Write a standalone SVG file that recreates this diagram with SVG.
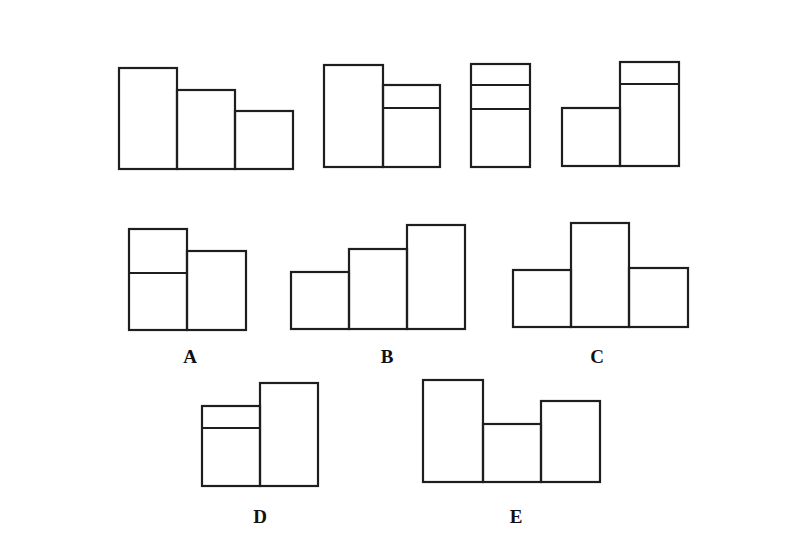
<svg xmlns="http://www.w3.org/2000/svg" width="800" height="560" viewBox="0 0 800 560">
<style>
.b{fill:none;stroke:#1e1e1e;stroke-width:2.2;stroke-linejoin:miter}
.l{font-family:"Liberation Serif","DejaVu Serif",serif;font-weight:bold;font-size:19px;fill:#111;text-anchor:middle}
</style>
<rect width="800" height="560" fill="#ffffff"/>
<g id="fig1">
<rect class="b" x="119" y="68" width="58" height="101"/>
<rect class="b" x="177" y="90" width="58" height="79"/>
<rect class="b" x="235" y="111" width="58" height="58"/>
</g>
<g id="fig2">
<rect class="b" x="324" y="65" width="59" height="102"/>
<rect class="b" x="383" y="85" width="57" height="82"/>
<line class="b" x1="383" y1="108" x2="440" y2="108"/>
</g>
<g id="fig3">
<rect class="b" x="471" y="64" width="59" height="103"/>
<line class="b" x1="471" y1="85" x2="530" y2="85"/>
<line class="b" x1="471" y1="109" x2="530" y2="109"/>
</g>
<g id="fig4">
<rect class="b" x="562" y="108" width="58" height="58"/>
<rect class="b" x="620" y="62" width="59" height="104"/>
<line class="b" x1="620" y1="84" x2="679" y2="84"/>
</g>
<g id="optA">
<rect class="b" x="129" y="229" width="58" height="101"/>
<line class="b" x1="129" y1="273" x2="187" y2="273"/>
<rect class="b" x="187" y="251" width="59" height="79"/>
<text class="l" x="190" y="363">A</text>
</g>
<g id="optB">
<rect class="b" x="291" y="272" width="58" height="57"/>
<rect class="b" x="349" y="249" width="58" height="80"/>
<rect class="b" x="407" y="225" width="58" height="104"/>
<text class="l" x="387" y="363">B</text>
</g>
<g id="optC">
<rect class="b" x="513" y="270" width="58" height="57"/>
<rect class="b" x="571" y="223" width="58" height="104"/>
<rect class="b" x="629" y="268" width="59" height="59"/>
<text class="l" x="597" y="363">C</text>
</g>
<g id="optD">
<rect class="b" x="202" y="406" width="58" height="80"/>
<line class="b" x1="202" y1="428" x2="260" y2="428"/>
<rect class="b" x="260" y="383" width="58" height="103"/>
<text class="l" x="260" y="523">D</text>
</g>
<g id="optE">
<rect class="b" x="423" y="380" width="60" height="102"/>
<rect class="b" x="483" y="424" width="58" height="58"/>
<rect class="b" x="541" y="401" width="59" height="81"/>
<text class="l" x="516" y="523">E</text>
</g>
</svg>
